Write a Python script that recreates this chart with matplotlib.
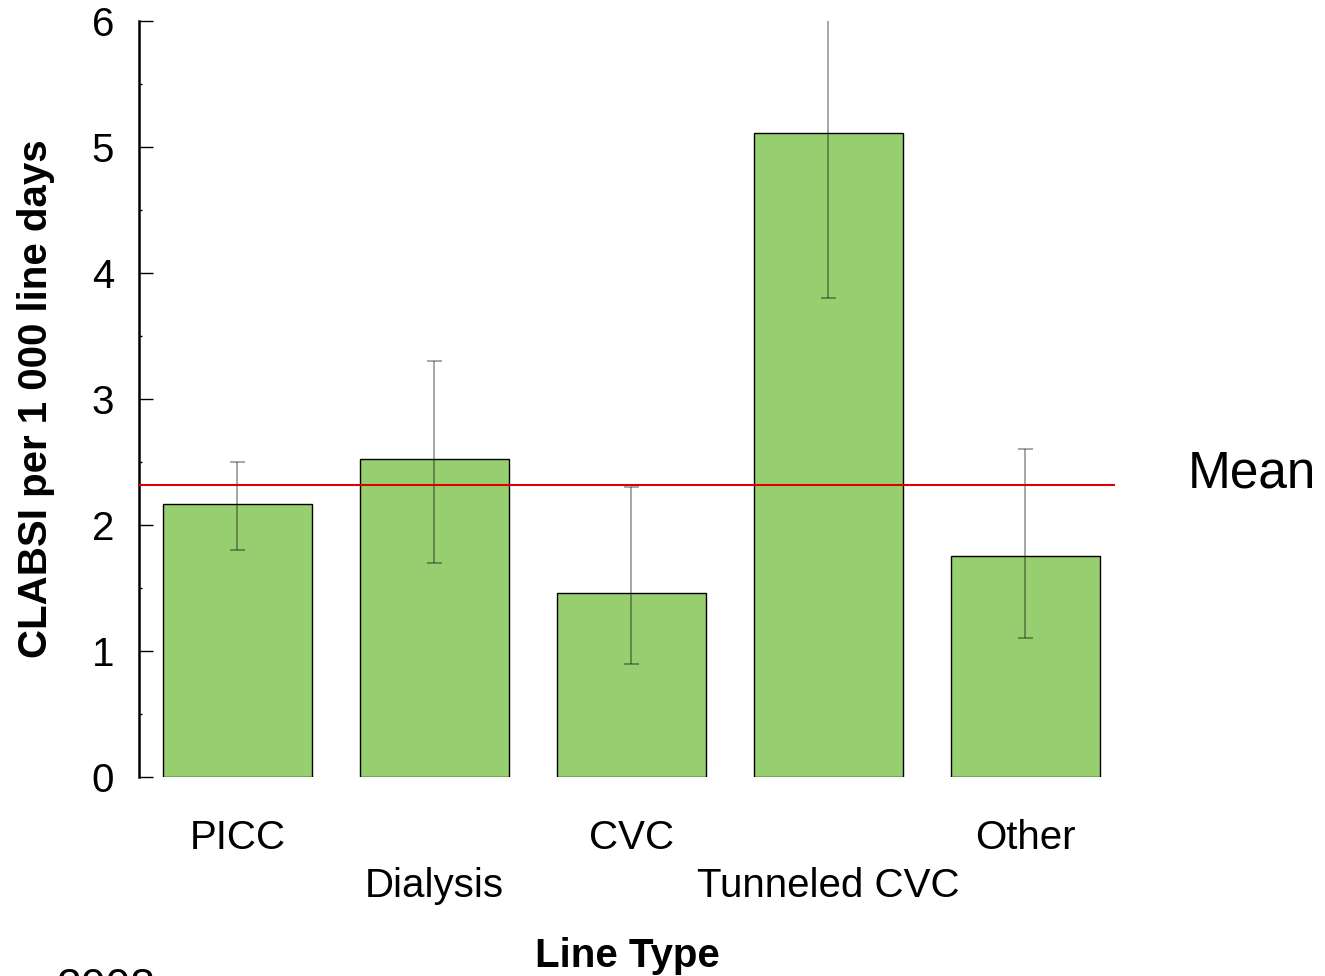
import matplotlib
matplotlib.use("Agg")
import matplotlib.pyplot as plt
from matplotlib.ticker import MultipleLocator
import numpy as np

plt.rcParams['font.family'] = ['Liberation Sans', 'DejaVu Sans']

categories = ["PICC", "Dialysis", "CVC", "Tunneled CVC", "Other"]
rates = [2.17, 2.52, 1.46, 5.11, 1.75]
ci_low = [1.80, 1.70, 0.90, 3.80, 1.10]
ci_high = [2.50, 3.30, 2.30, 6.42, 2.60]
mean_rate = 2.32
yticks = [0, 1, 2, 3, 4, 5, 6]

fig = plt.figure(figsize=(13.25, 9.76), dpi=100)
ax = fig.add_axes([0.1049, 0.2039, 0.7366, 0.7746])

x = np.arange(len(categories))
yerr = np.array([[r - lo for r, lo in zip(rates, ci_low)],
                 [hi - r for r, hi in zip(rates, ci_high)]])
ax.bar(x, rates, width=0.756, color='#97CE6F', edgecolor='black', linewidth=1.0, zorder=2)
ax.errorbar(x, rates, yerr=yerr, fmt='none', ecolor=(0, 0, 0, 0.35),
            elinewidth=1.4, capsize=5.4, capthick=1.4, zorder=3)
ax.axhline(mean_rate, color='#DD0000', linewidth=1.5, zorder=4)

ax.set_xlim(-0.5, 4.455)
ax.set_ylim(0, 6)
ax.set_yticks(yticks)
ax.yaxis.set_minor_locator(MultipleLocator(0.5))
ax.tick_params(axis='y', which='major', direction='in', length=10, width=1.0,
               labelsize=29, pad=18)
ax.tick_params(axis='y', which='minor', direction='in', length=2.5, width=1.0)

labels = [c if i % 2 == 0 else "\n" + c for i, c in enumerate(categories)]
ax.set_xticks(x)
ax.set_xticklabels(labels, fontsize=29, linespacing=1.36)
ax.tick_params(axis='x', length=0, pad=30)

for s in ['top', 'right', 'bottom']:
    ax.spines[s].set_visible(False)
ax.spines['left'].set_linewidth(1.8)

ax.set_ylabel("CLABSI per 1 000 line days", fontsize=29, fontweight='bold', labelpad=26)
ax.set_xlabel("Line Type", fontsize=29, fontweight='bold', labelpad=23)

fig.text(1188 / 1325, (976 - 487) / 976, "Mean", fontsize=37, ha='left', va='baseline')
fig.text(57 / 1325, (976 - 1000) / 976, "2008", fontsize=32, ha='left', va='baseline')

fig.savefig("out.png", dpi=100)
